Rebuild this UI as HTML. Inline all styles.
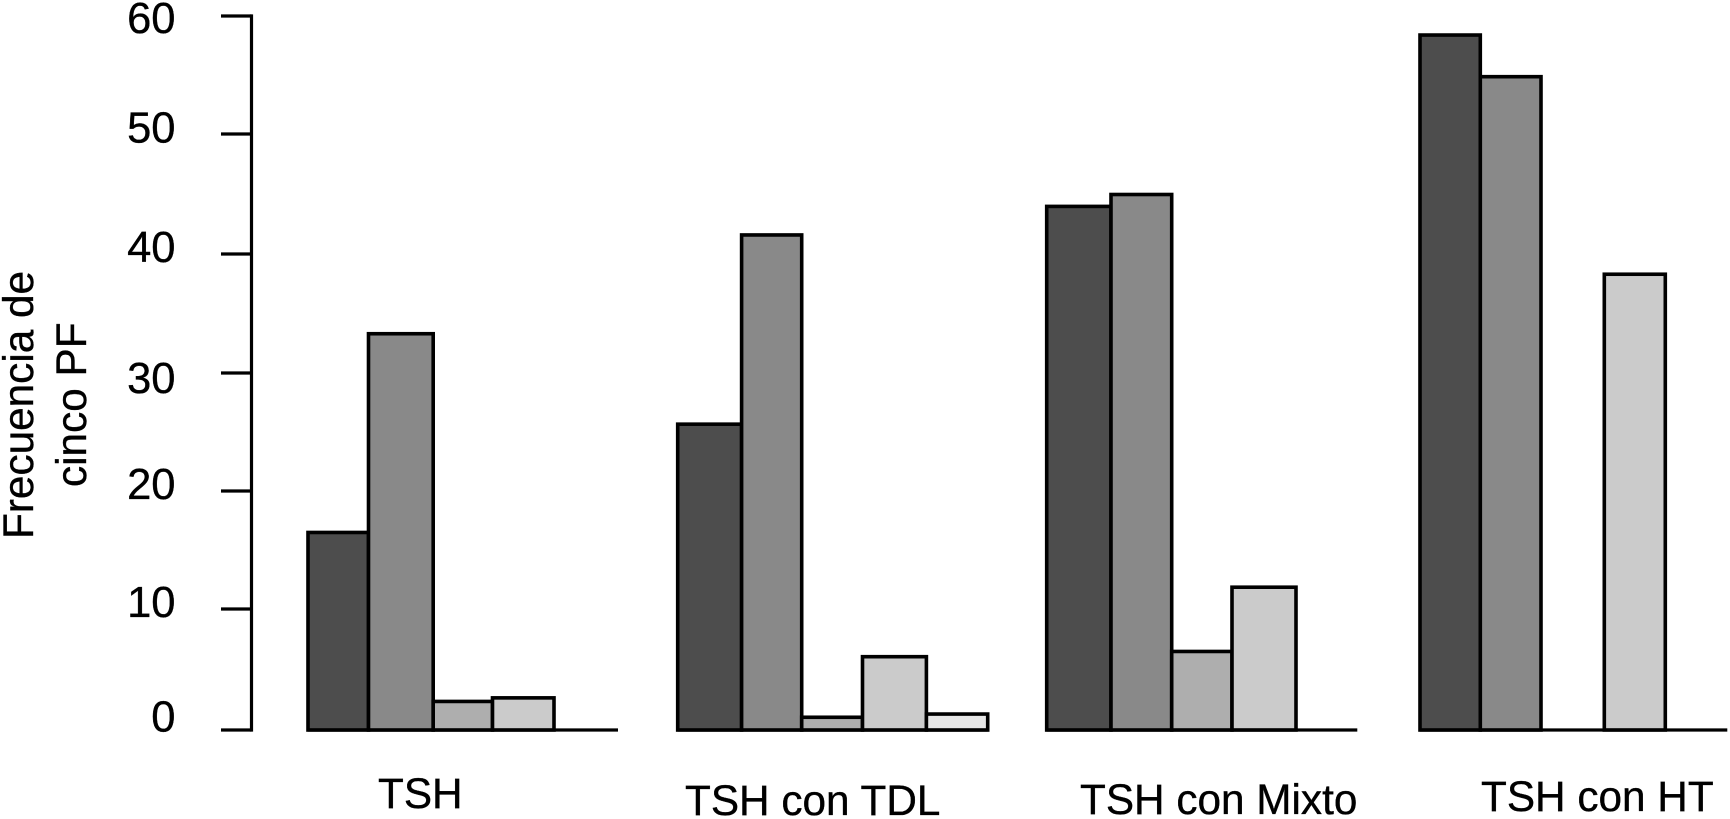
<!DOCTYPE html>
<html lang="es">
<head>
<meta charset="utf-8">
<title>Frecuencia de cinco PF</title>
<style>
  html, body { margin: 0; padding: 0; background: #ffffff; }
  body { width: 1730px; height: 819px; overflow: hidden; }
  svg { display: block; }
  text { font-family: "Liberation Sans", Arial, sans-serif; font-size: 42.3px; fill: #000000; stroke: #000000; stroke-width: 0.35px; }
  .tick-text { font-size: 43.5px; }
</style>
</head>
<body>
<svg id="chart" xmlns="http://www.w3.org/2000/svg" width="1730" height="819" viewBox="0 0 1730 819">
  <g id="baselines"></g>
  <g id="bars"></g>
  <g id="y-axis"></g>
  <g id="x-labels"></g>
  <text transform="translate(33,539) rotate(-90)">Frecuencia de</text>
  <text transform="translate(86,487) rotate(-90)">cinco PF</text>
</svg>
<script>
// Chart data
const categories = ["TSH", "TSH con TDL", "TSH con Mixto", "TSH con HT"];
const series1 = [16.6, 25.7, 44.0, 58.4];
const series2 = [33.3, 41.6, 45.0, 54.9];
const series3 = [2.4, 1.07, 6.6, 0];
const series4 = [2.7, 6.16, 12.0, 38.3];
const series5 = [0, 1.34, 0, 0];
const yTickValues = [0, 10, 20, 30, 40, 50, 60];
const yTickLabels = ["0", "10", "20", "30", "40", "50", "60"];

const allSeries = [series1, series2, series3, series4, series5];
const seriesFills = ["#4d4d4d", "#898989", "#aeaeae", "#cbcbcb", "#e6e6e6"];

// Axis functions
const NS = "http://www.w3.org/2000/svg";
const yZero = 730, yTop = 16, yMax = 60;
const groupStart = 308, groupStep = 371;
const groupNudge = [0, -1.3, -3.3, -1];
const baselineLengths = [310, 310, 310.6, 307.3];
const slotWidths = [
  [60.5, 64.7, 59.3, 61.5, 61],
  [63.9, 60.1, 60.8, 63.9, 61.3],
  [64.3, 60.7, 60.3, 64, 61],
  [60.3, 60.7, 63.3, 61, 61]
];
function yScale(v) { return yZero - v * (yZero - yTop) / yMax; }
function xScale(groupIndex, slotIndex) {
  let x = groupStart + groupIndex * groupStep + groupNudge[groupIndex];
  for (let i = 0; i < slotIndex; i++) { x += slotWidths[groupIndex][i]; }
  return x;
}

// Hand-lettered offsets in the source figure
const tickMarkNudge = [0, -2, -1, 0, 0, -1, 0];
const tickBaselineOffset = [1.5, 6, 7, 20, 8, 7.5, 17];
const categoryLabelDx = [70, 7.3, 33.3, 61];
const categoryLabelBaseline = [808, 815, 814, 811];

function make(tag, attrs, parent) {
  const el = document.createElementNS(NS, tag);
  Object.keys(attrs).forEach(function (k) { el.setAttribute(k, attrs[k]); });
  parent.appendChild(el);
  return el;
}

const baselineLayer = document.getElementById("baselines");
const barLayer = document.getElementById("bars");
const axisLayer = document.getElementById("y-axis");
const labelLayer = document.getElementById("x-labels");

categories.forEach(function (name, g) {
  const line = make("line", {
    x1: xScale(g, 0), x2: xScale(g, 0) + baselineLengths[g], y1: yScale(0), y2: yScale(0),
    stroke: "#000000", "stroke-width": 3.2
  }, baselineLayer);
  
  

  allSeries.forEach(function (values, s) {
    const v = values[g];
    if (!(v > 0)) return;
    const rect = make("rect", {
      x: xScale(g, s), y: yScale(v), width: slotWidths[g][s], height: yScale(0) - yScale(v),
      fill: seriesFills[s], stroke: "#000000", "stroke-width": 3.6
    }, barLayer);
    
    
  });

  const label = make("text", {
    x: xScale(g, 0) + categoryLabelDx[g], y: categoryLabelBaseline[g]
  }, labelLayer);
  label.textContent = name;
  
  
});

const axisLine = make("line", {
  x1: 251.5, x2: 251.5, y1: yScale(yMax) - 1.6, y2: yScale(0) + 1.6,
  stroke: "#000000", "stroke-width": 3.2
}, axisLayer);



yTickValues.forEach(function (v, i) {
  const tick = make("line", {
    x1: 221, x2: 251.5, y1: yScale(v) + tickMarkNudge[i], y2: yScale(v) + tickMarkNudge[i],
    stroke: "#000000", "stroke-width": 3.2
  }, axisLayer);
  
  

  const tickLabel = make("text", {
    x: 175.5, y: yScale(v) + tickBaselineOffset[i], "text-anchor": "end", "class": "tick-text"
  }, axisLayer);
  tickLabel.textContent = yTickLabels[i];
  
  
});
</script>
</body>
</html>
